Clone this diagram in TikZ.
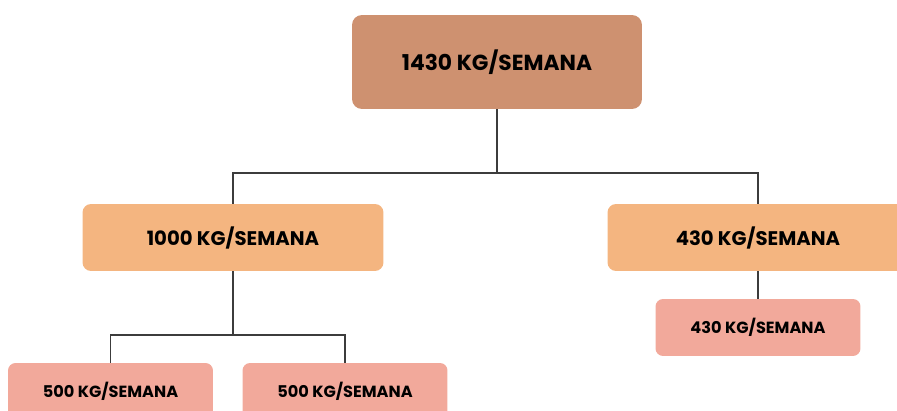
\documentclass[tikz,border=0pt]{standalone}
\usepackage{fontspec}
\setmainfont{Poppins}
\usetikzlibrary{calc}
\definecolor{Clay}{RGB}{206, 145, 112}
\definecolor{Apricot}{RGB}{244, 181, 128}
\definecolor{Salmon}{RGB}{242, 169, 155}
\definecolor{Wire}{RGB}{60, 60, 60}

\tikzset{
  rootbox/.style={fill=Clay, rounded corners=0.2cm, minimum width=5.8cm, minimum height=1.88cm, inner sep=0pt, font=\fontsize{12.4}{14}\selectfont\bfseries},
  midbox/.style={fill=Apricot, rounded corners=0.17cm, minimum width=6.02cm, minimum height=1.34cm, inner sep=0pt, font=\fontsize{11.2}{13}\selectfont\bfseries},
  leafbox/.style={fill=Salmon, rounded corners=0.15cm, minimum width=4.1cm, minimum height=1.14cm, inner sep=0pt, font=\fontsize{9.2}{11}\selectfont\bfseries},
  wire/.style={Wire, line width=0.6pt}
}

\begin{document}
\begin{tikzpicture}[x=0.02cm, y=-0.02cm]
\useasboundingbox (0,0) rectangle (897,411);
\clip (0,0) rectangle (897,411);

% Top level
\node[rootbox] (total) at (497,62) {1430 KG/SEMANA};

% Second level
\node[midbox] (left) at (233,237.5) {1000 KG/SEMANA};
\node[midbox] (right) at (758,237.5) {430 KG/SEMANA};

% Third level
\node[leafbox] (leafA) at (110.5,391.5) {500 KG/SEMANA};
\node[leafbox] (leafB) at (345,391.5) {500 KG/SEMANA};
\node[leafbox] (leafC) at (758,327.5) {430 KG/SEMANA};

% Branch points
\coordinate (splitTop) at (497,173);
\coordinate (splitLeft) at (233,335);

% Connectors
\draw[wire] (total.south) -- (splitTop);
\draw[wire] (splitTop) -| (left.north);
\draw[wire] (splitTop) -| (right.north);
\draw[wire] (left.south) -- (splitLeft);
\draw[wire] (splitLeft) -| (leafA.north);
\draw[wire] (splitLeft) -| (leafB.north);
\draw[wire] (right.south) -- (leafC.north);

\end{tikzpicture}
\end{document}
